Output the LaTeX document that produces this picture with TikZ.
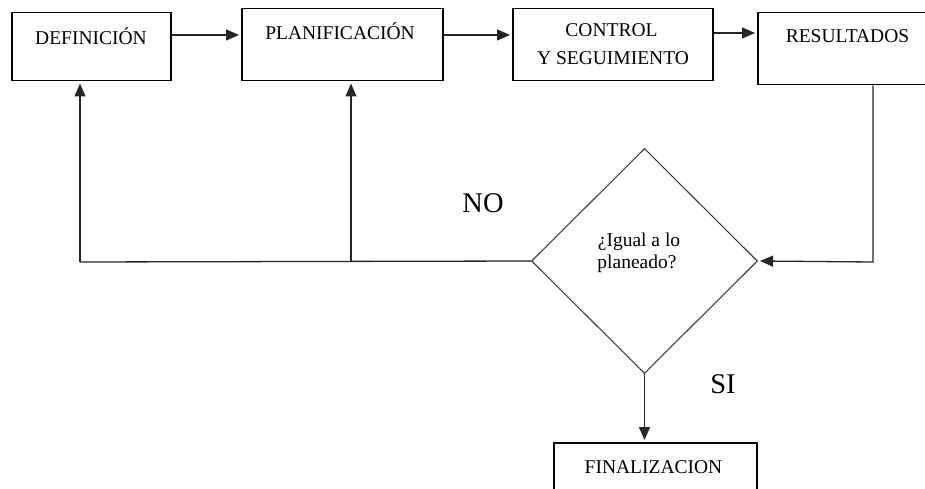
\documentclass[tikz,border=0pt]{standalone}
\usepackage{fontspec}
\setmainfont{Liberation Serif}
\usetikzlibrary{arrows.meta,shapes.geometric}

\begin{document}
\begin{tikzpicture}[x=1pt,y=-1pt,
  box/.style={draw=black, line width=1.5pt, inner sep=0pt, anchor=north west},
  txt/.style={inner sep=0pt, anchor=base, font=\fontsize{19.5}{22}\selectfont},
  big/.style={inner sep=0pt, anchor=base, font=\fontsize{28.5}{32}\selectfont},
  link/.style={draw=black!85, line width=1.3pt},
  arr/.style={link, shorten >=2pt, -{Triangle[length=13pt,width=11pt]}}
]
\useasboundingbox (0,0) rectangle (925,489);

% process boxes
\node[box, minimum width=159pt, minimum height=68pt] (def)  at (11,12)  {};
\node[box, minimum width=201pt, minimum height=72pt] (plan) at (241,8)  {};
\node[box, minimum width=200pt, minimum height=72pt] (ctrl) at (512,8)  {};
\node[box, minimum width=185pt, minimum height=72pt] (res)  at (757,12) {};
\node[box, minimum width=203pt, minimum height=70pt] (fin)  at (553,442) {};

% box captions
\node[txt] (tdef)  at (91,45)    {DEFINICIÓN};
\node[txt] (tplan) at (340,40)   {PLANIFICACIÓN};
\node[txt] (tctl1) at (611.5,37) {CONTROL};
\node[txt] (tctl2) at (613,65)   {Y SEGUIMIENTO};
\node[txt] (tres)  at (847.5,43) {RESULTADOS};
\node[txt] (tfin)  at (653.5,473) {FINALIZACION};

% decision
\node[draw=black!75, line width=1.1pt, diamond, inner sep=0pt,
      minimum width=226pt, minimum height=225pt] (dia) at (644.5,261) {};
\node[txt] (q1) at (639,246) {¿Igual a lo};
\node[txt] (q2) at (637,268) {planeado?};

% branch labels
\node[big] (no) at (483,212) {NO};
\node[big] (si) at (723,393) {SI};

% forward flow
\draw[arr] (def.east |- 0,35)  -- (plan.west |- 0,35);
\draw[arr] (plan.east |- 0,35) -- (ctrl.west |- 0,35);
\draw[arr] (ctrl.east |- 0,33) -- (res.west |- 0,33);

% results into decision
\coordinate (rx) at (873,262);
\draw[arr] (rx |- res.south) -- (rx) -- (dia.east);

% feedback on NO
\coordinate (fbL) at (80,262);
\coordinate (fbM) at (351,262);
\draw[link] (dia.west) -- (fbL);
\draw[arr] (fbL) -- (fbL |- def.south);
\draw[arr] (fbM) -- (fbM |- plan.south);

% exit on SI
\draw[arr] (dia.south) -- (dia.south |- fin.north);
\end{tikzpicture}
\end{document}
